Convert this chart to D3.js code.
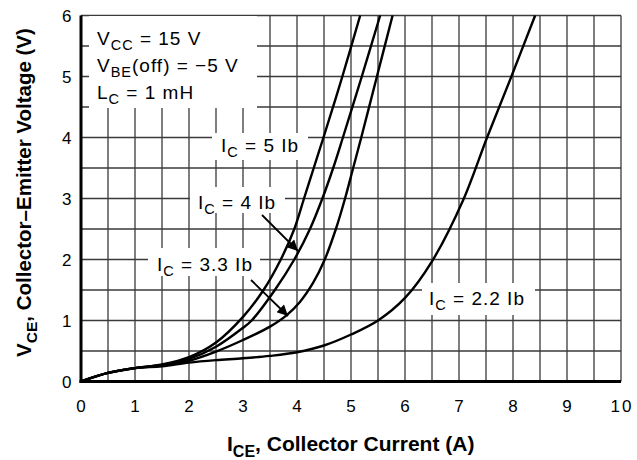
<!DOCTYPE html>
<html>
<head>
<meta charset="utf-8">
<script src="https://cdn.jsdelivr.net/npm/d3@7"></script>
<style>
  body { margin: 0; background: #fff; }
  text { font-family: "Liberation Sans", Arial, sans-serif; fill: #000; }
</style>
</head>
<body>
<div id="chart"></div>
<script>
var width = 637, height = 460;

// data (I_CE in A, V_CE in V)
var ib50 = [[0,0],[0.5,0.14],[1,0.22],[1.5,0.28],[2,0.40],[2.5,0.64],[3,1.06],[3.38,1.5],[3.70,2.0],[3.95,2.5],[4.13,3.0],[4.31,3.5],[4.49,4.0],[4.84,5.0],[5.17,6.0]];
var ib40 = [[0,0],[0.5,0.14],[1,0.22],[1.5,0.27],[2,0.37],[2.5,0.57],[3,0.88],[3.16,1.0],[3.59,1.5],[3.95,2.0],[4.24,2.5],[4.47,3.0],[4.67,3.5],[4.85,4.0],[5.2,5.0],[5.54,6.0]];
var ib33 = [[0,0],[0.5,0.14],[1,0.22],[1.5,0.26],[2,0.34],[2.5,0.49],[3,0.68],[3.5,0.9],[3.8,1.08],[4.05,1.3],[4.3,1.62],[4.5,1.97],[4.72,2.5],[4.89,3.0],[5.04,3.5],[5.19,4.0],[5.48,5.0],[5.77,6.0]];
var ib22 = [[0,0],[0.5,0.14],[1,0.22],[1.5,0.25],[2,0.31],[2.5,0.35],[3,0.38],[3.5,0.42],[4,0.48],[4.5,0.59],[5,0.77],[5.5,1.0],[6,1.37],[6.5,1.97],[7.08,2.98],[7.52,4.0],[7.97,5.0],[8.41,6.0]];
var series = [ib50, ib40, ib33, ib22];

var xTicks = [0,1,2,3,4,5,6,7,8,9,10];
var yTicks = [0,1,2,3,4,5,6];
var gridX = d3.range(0, 10.01, 0.5);
var gridY = d3.range(0, 6.01, 0.5);

var svg = d3.select("#chart").append("svg").attr("width", width).attr("height", height);

var x = d3.scaleLinear().domain([0, 10]).range([81, 621]);
var y = d3.scaleLinear().domain([0, 6]).range([381.5, 15.5]);

// grid
svg.append("g").selectAll("line").data(gridX).enter().append("line")
  .attr("x1", d => x(d)).attr("x2", d => x(d))
  .attr("y1", y(0)).attr("y2", y(6))
  .attr("stroke", "#3a3a3a").attr("stroke-width", 1.3);
svg.append("g").selectAll("line").data(gridY).enter().append("line")
  .attr("x1", x(0)).attr("x2", x(10))
  .attr("y1", d => y(d)).attr("y2", d => y(d))
  .attr("stroke", "#3a3a3a").attr("stroke-width", 1.3);

// white boxes behind labels
var boxes = [[89, 16, 168, 92], [212, 133, 96, 27], [190, 187, 95, 26], [148, 248, 112, 28], [422, 283, 113, 32]];
svg.append("g").selectAll("rect").data(boxes).enter().append("rect")
  .attr("x", d => d[0]).attr("y", d => d[1]).attr("width", d => d[2]).attr("height", d => d[3])
  .attr("fill", "#fff");

// axes lines (thick left/bottom)
svg.append("line").attr("x1", x(0)).attr("x2", x(0)).attr("y1", y(0) + 1.5).attr("y2", y(6))
  .attr("stroke", "#000").attr("stroke-width", 3);
svg.append("line").attr("x1", x(0) - 1.5).attr("x2", x(10)).attr("y1", y(0)).attr("y2", y(0))
  .attr("stroke", "#000").attr("stroke-width", 3);

// curves
var line = d3.line().x(d => x(d[0])).y(d => y(d[1])).curve(d3.curveCatmullRom.alpha(0.5));
svg.append("g").selectAll("path").data(series).enter().append("path")
  .attr("d", line).attr("fill", "none").attr("stroke", "#000").attr("stroke-width", 2.4);

// tick labels
svg.append("g").selectAll("text").data(xTicks).enter().append("text")
  .attr("x", d => x(d) + 1).attr("y", 412).attr("text-anchor", "middle")
  .attr("font-size", 17).attr("letter-spacing", 2).text(d => d);
svg.append("g").selectAll("text").data(yTicks).enter().append("text")
  .attr("x", 71.5).attr("y", d => y(d) + 6).attr("text-anchor", "end")
  .attr("font-size", 17).text(d => d);

// text with subscript helper
function subText(g, px, py, parts, size, subSize, spacing, weight) {
  var t = g.append("text").attr("x", px).attr("y", py)
    .attr("font-size", size).attr("letter-spacing", spacing || 0)
    .attr("font-weight", weight || "normal");
  var shift = 0;
  parts.forEach(function(p) {
    var dy = 0;
    if (p.sub && shift === 0) { dy = size * 0.28; shift = 1; }
    else if (!p.sub && shift === 1) { dy = -size * 0.28; shift = 0; }
    t.append("tspan").attr("dy", dy).attr("font-size", p.sub ? subSize : size).text(p.t);
  });
  return t;
}

var ann = svg.append("g");
subText(ann, 97, 45, [{t: "V"}, {t: "CC", sub: true}, {t: " = 15 V"}], 19, 14.5, 1);
subText(ann, 97, 72, [{t: "V"}, {t: "BE", sub: true}, {t: "(off) = \u22125 V"}], 19, 14.5, 1);
subText(ann, 97, 99, [{t: "L"}, {t: "C", sub: true}, {t: " = 1 mH"}], 19, 14.5, 1);
subText(ann, 221, 152, [{t: "I"}, {t: "C", sub: true}, {t: " = 5 Ib"}], 19, 14.5, 1);
subText(ann, 198, 209, [{t: "I"}, {t: "C", sub: true}, {t: " = 4 Ib"}], 19, 14.5, 1);
subText(ann, 157, 271, [{t: "I"}, {t: "C", sub: true}, {t: " = 3.3 Ib"}], 19, 14.5, 1);
subText(ann, 429, 305, [{t: "I"}, {t: "C", sub: true}, {t: " = 2.2 Ib"}], 19, 14.5, 1);

// arrows
svg.append("defs").append("marker").attr("id", "arr")
  .attr("viewBox", "0 0 10 10").attr("refX", 10).attr("refY", 5)
  .attr("markerWidth", 7).attr("markerHeight", 6).attr("markerUnits", "strokeWidth")
  .attr("orient", "auto")
  .append("path").attr("d", "M0,0L10,5L0,10z").attr("fill", "#000");
var arrows = [[262, 215, 298, 251], [251, 280, 288, 316]];
svg.append("g").selectAll("line").data(arrows).enter().append("line")
  .attr("x1", d => d[0]).attr("y1", d => d[1]).attr("x2", d => d[2]).attr("y2", d => d[3])
  .attr("stroke", "#000").attr("stroke-width", 1.8).attr("marker-end", "url(#arr)");

// axis titles
subText(svg, 0, 0, [{t: "I"}, {t: "CE", sub: true}, {t: ", Collector Current (A)"}], 21, 16, 0, "bold")
  .attr("transform", "translate(227,451)");
subText(svg, 0, 0, [{t: "V"}, {t: "CE", sub: true}, {t: ", Collector\u2013Emitter Voltage (V)"}], 20.5, 15.5, 0, "bold")
  .attr("text-anchor", "middle")
  .attr("transform", "translate(31,192.5) rotate(-90)");
</script>
</body>
</html>
